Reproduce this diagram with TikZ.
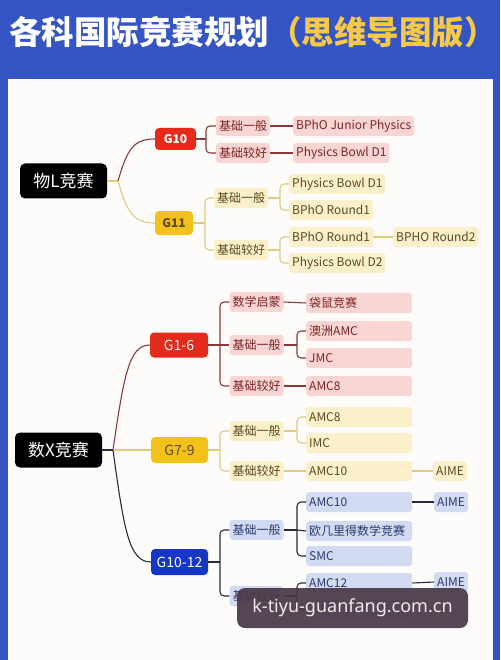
\documentclass[tikz,border=0pt]{standalone}
\usepackage{fontspec}
\setmainfont{Noto Sans CJK SC}
\newfontfamily\cjk{Noto Sans CJK SC}
\newfontfamily\wmfont{Noto Sans}
\definecolor{bgblue}{HTML}{3455C3}
\definecolor{panel}{HTML}{FDFCFB}
\definecolor{titley}{HTML}{F7C948}
\definecolor{gR}{HTML}{E42A1B}
\definecolor{gY}{HTML}{F2C21A}
\definecolor{gB}{HTML}{1637C6}
\definecolor{pinkF}{HTML}{F9D5D3}
\definecolor{pinkT}{HTML}{7A2525}
\definecolor{yelF}{HTML}{FBF0C9}
\definecolor{yelT}{HTML}{5B4A1C}
\definecolor{bluF}{HTML}{D3DBF2}
\definecolor{bluT}{HTML}{2B3A6E}
\definecolor{lnR}{HTML}{8A3A3A}
\definecolor{lnY}{HTML}{DCCC7C}
\definecolor{lnD}{HTML}{2A2A3A}
\definecolor{wmF}{HTML}{4A3A48}
\definecolor{wmT}{HTML}{F2EAEA}
\begin{document}
\begin{tikzpicture}[x=1pt,y=-1pt,
  rootbox/.style={fill=black,text=white,rounded corners=5pt,minimum width=87pt,minimum height=35pt,inner sep=0pt,font=\cjk\fontsize{17}{19}\selectfont},
  gbox/.style={rounded corners=4pt,minimum height=24pt,inner sep=0pt,font=\cjk\bfseries\fontsize{12}{14}\selectfont},
  gred/.style={gbox,fill=gR,text=white},
  gyel/.style={gbox,fill=gY,text=yelT},
  gblu/.style={gbox,fill=gB,text=white},
  mg/.style={font=\cjk\fontsize{14}{16}\selectfont},
  catbox/.style={rounded corners=3pt,minimum width=54pt,minimum height=20pt,inner sep=0pt,font=\cjk\fontsize{12}{14}\selectfont},
  pcat/.style={catbox,fill=pinkF,text=pinkT},
  ycat/.style={catbox,fill=yelF,text=yelT},
  bcat/.style={catbox,fill=bluF,text=bluT},
  leafbox/.style={rounded corners=3pt,minimum height=20pt,inner xsep=3pt,inner ysep=0pt,anchor=west,font=\cjk\fontsize{12}{14}\selectfont},
  pleaf/.style={leafbox,fill=pinkF,text=pinkT},
  yleaf/.style={leafbox,fill=yelF,text=yelT},
  bleaf/.style={leafbox,fill=bluF,text=bluT},
  mpleaf/.style={pleaf,text width=100pt,align=left},
  myleaf/.style={yleaf,text width=100pt,align=left},
  mbleaf/.style={bleaf,text width=100pt,align=left},
  lnr/.style={draw=lnR,line width=1.1pt},
  lny/.style={draw=lnY,line width=1.1pt},
  lnd/.style={draw=lnD,line width=1.1pt},
  rc/.style={rounded corners=4pt}]
\useasboundingbox (0,0) rectangle (500,660);
\fill[bgblue] (0,0) rectangle (500,660);
\fill[panel] (8,79) rectangle (493,660);
\node[anchor=west,inner sep=0pt,text=white,font=\cjk\bfseries\fontsize{32.5}{34}\selectfont] (title) at (9,32) {各科国际竞赛规划\textcolor{titley}{（思维导图版）}};

% ---------- Physics ----------
\node[rootbox] (phy) at (63.5,181) {物L竞赛};
\node[gred,minimum width=41pt,minimum height=22pt] (g10) at (175.5,139) {G10};
\node[gyel,minimum width=38pt] (g11) at (174,223) {G11};
\node[pcat] (p1) at (243,126) {基础一般};
\node[pcat] (p2) at (243,153) {基础较好};
\node[pleaf] (p1a) at (293,126) {BPhO Junior Physics};
\node[pleaf] (p2a) at (293,153) {Physics Bowl D1};
\node[ycat] (q1) at (241,198) {基础一般};
\node[ycat] (q2) at (241,250) {基础较好};
\node[yleaf] (q1a) at (289,184) {Physics Bowl D1};
\node[yleaf] (q1b) at (289,210) {BPhO Round1};
\node[yleaf] (q2a) at (289,237) {BPhO Round1};
\node[yleaf] (q2b) at (289,263) {Physics Bowl D2};
\node[yleaf] (q2c) at (393,237) {BPHO Round2};

\coordinate (ps) at (118,181);
\draw[lny] (phy.east) -- (ps);
\draw[lnr] (ps) .. controls (127,150) and (133,139) .. (g10.west);
\draw[lny] (ps) .. controls (127,212) and (133,223) .. (g11.west);
\coordinate (b10) at (206,139);
\draw[lnr] (g10.east) -- (b10);
\draw[lnr,rc] (b10) |- (p1.west);
\draw[lnr,rc] (b10) |- (p2.west);
\draw[lnr] (p1.east) -- (p1a.west);
\draw[lnr] (p2.east) -- (p2a.west);
\coordinate (b11) at (205,223);
\draw[lny] (g11.east) -- (b11);
\draw[lny,rc] (b11) |- (q1.west);
\draw[lny,rc] (b11) |- (q2.west);
\coordinate (bq1) at (280,198);
\draw[lny] (q1.east) -- (bq1);
\draw[lny,rc] (bq1) |- (q1a.west);
\draw[lny,rc] (bq1) |- (q1b.west);
\coordinate (bq2) at (280,250);
\draw[lny] (q2.east) -- (bq2);
\draw[lny,rc] (bq2) |- (q2a.west);
\draw[lny,rc] (bq2) |- (q2b.west);
\draw[lny] (q2a.east) -- (q2c.west);

% ---------- Math ----------
\node[rootbox] (math) at (58.5,450) {数X竞赛};
\node[gred,mg,minimum width=58pt,minimum height=25pt] (m1) at (179,345) {G1-6};
\node[gyel,mg,minimum width=57pt,minimum height=26pt] (m2) at (179.5,450) {G7-9};
\node[gblu,mg,minimum width=57pt,minimum height=26pt] (m3) at (179.5,562) {G10-12};

\node[pcat] (a1) at (256.5,302) {数学启蒙};
\node[pcat] (a2) at (256.5,345) {基础一般};
\node[pcat] (a3) at (256.5,386) {基础较好};
\node[mpleaf] (a1x) at (306,303) {袋鼠竞赛};
\node[mpleaf] (a2x) at (306,331) {澳洲AMC};
\node[mpleaf] (a2y) at (306,358) {JMC};
\node[mpleaf] (a3x) at (306,386) {AMC8};

\node[ycat] (b1) at (256.5,431) {基础一般};
\node[ycat] (b2) at (256.5,471) {基础较好};
\node[myleaf] (b1x) at (306,417) {AMC8};
\node[myleaf] (b1y) at (306,443) {IMC};
\node[myleaf] (b2x) at (306,471) {AMC10};
\node[yleaf] (b2z) at (433,471) {AIME};

\node[bcat] (c1) at (256.5,530) {基础一般};
\node[bcat] (c2) at (256.5,596) {基础较好};
\node[mbleaf] (c1x) at (306,502) {AMC10};
\node[mbleaf] (c1y) at (306,531) {欧几里得数学竞赛};
\node[mbleaf] (c1w) at (306,556) {SMC};
\node[mbleaf] (c2x) at (306,583) {AMC12};
\node[mbleaf] (c2y) at (306,609) {};
\node[bleaf] (c1z) at (434,502) {AIME};
\node[bleaf] (c2z) at (434,582) {AIME};

\coordinate (ms) at (113,450);
\draw[lnd] (math.east) -- (ms);
\draw[lnr] (ms) .. controls (124,375) and (129,345) .. (m1.west);
\draw[lny] (ms) -- (m2.west);
\draw[lnd] (ms) .. controls (124,530) and (129,562) .. (m3.west);

\coordinate (bm1) at (220,345);
\draw[lnr] (m1.east) -- (bm1);
\draw[lnr,rc] (bm1) |- (a1.west);
\draw[lnr] (bm1) -- (a2.west);
\draw[lnr,rc] (bm1) |- (a3.west);
\draw[lnr] (a1.east) -- (a1x.west);
\coordinate (ba2) at (297,345);
\draw[lnr] (a2.east) -- (ba2);
\draw[lnr,rc] (ba2) |- (a2x.west);
\draw[lnr,rc] (ba2) |- (a2y.west);
\draw[lnr] (a3.east) -- (a3x.west);

\coordinate (bm2) at (220,450);
\draw[lny] (m2.east) -- (bm2);
\draw[lny,rc] (bm2) |- (b1.west);
\draw[lny,rc] (bm2) |- (b2.west);
\coordinate (bb1) at (297,431);
\draw[lny] (b1.east) -- (bb1);
\draw[lny,rc] (bb1) |- (b1x.west);
\draw[lny,rc] (bb1) |- (b1y.west);
\draw[lny] (b2.east) -- (b2x.west);
\draw[lny] (b2x.east) -- (b2z.west);

\coordinate (bm3) at (220,562);
\draw[lnd] (m3.east) -- (bm3);
\draw[lnd,rc] (bm3) |- (c1.west);
\draw[lnd,rc] (bm3) |- (c2.west);
\coordinate (bc1) at (297,530);
\draw[lnd] (c1.east) -- (bc1);
\draw[lnd,rc] (bc1) |- (c1x.west);
\draw[lnd] (bc1) -- (c1y.west);
\draw[lnd,rc] (bc1) |- (c1w.west);
\draw[lnd] (c1x.east) -- (c1z.west);
\coordinate (bc2) at (297,596);
\draw[lnd] (c2.east) -- (bc2);
\draw[lnd,rc] (bc2) |- (c2x.west);
\draw[lnd,rc] (bc2) |- (c2y.west);
\draw[lnd] (c2x.east) -- (c2z.west);

% ---------- Watermark ----------
\node[fill=wmF,fill opacity=0.93,text opacity=1,text=wmT,rounded corners=8pt,minimum width=231pt,minimum height=40pt,inner sep=0pt,font=\wmfont\fontsize{18}{20}\selectfont] (wm) at (352.5,608) {k-tiyu-guanfang.com.cn};
\end{tikzpicture}
\end{document}
